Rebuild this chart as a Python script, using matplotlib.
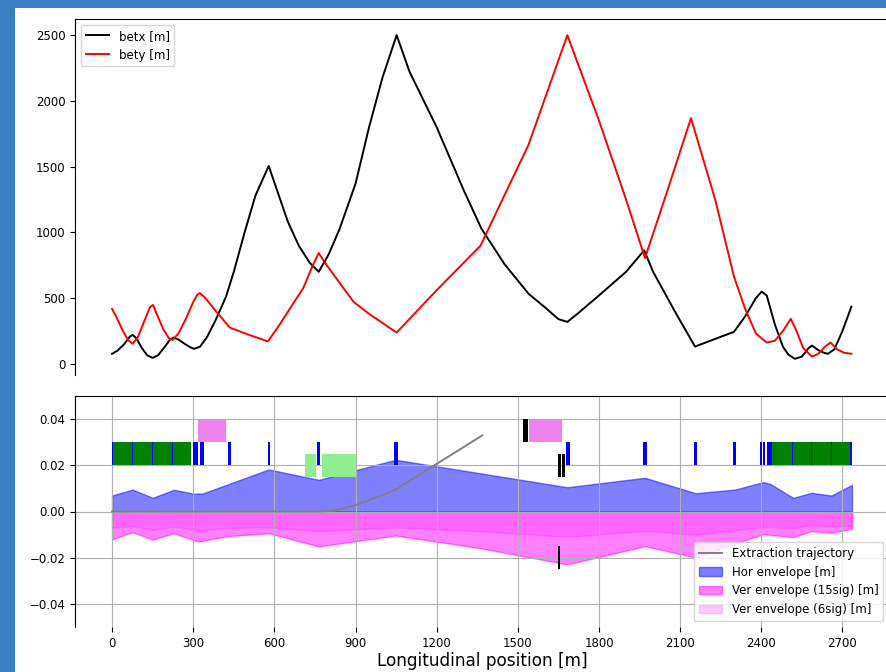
import matplotlib.pyplot as plt
from matplotlib.patches import Rectangle

# Optics functions
s_betx = [0, 20, 45, 65, 76, 90, 110, 130, 150, 170, 195, 215, 228, 245, 270, 290, 303,
          325, 350, 380, 421, 450, 490, 530, 579, 610, 650, 690, 730, 764, 800, 840, 900,
          950, 1000, 1052, 1100, 1200, 1300, 1365, 1450, 1540, 1600, 1650, 1683, 1720,
          1800, 1900, 1967, 2000, 2080, 2155, 2230, 2299, 2340, 2380, 2401, 2420, 2450,
          2480, 2500, 2524, 2550, 2575, 2587, 2610, 2630, 2646, 2670, 2700, 2733]
betx = [76, 100, 150, 205, 220, 195, 120, 65, 45, 65, 130, 185, 200, 185, 150, 125, 114,
        130, 200, 320, 509, 700, 1000, 1280, 1505, 1320, 1080, 900, 770, 700, 830, 1020, 1370,
        1800, 2180, 2500, 2220, 1800, 1320, 1030, 760, 532, 430, 340, 319, 380,
        520, 700, 863, 700, 400, 131, 190, 243, 360, 500, 549, 520, 300,
        130, 70, 38, 55, 120, 139, 105, 85, 76, 110, 250, 435]

s_bety = [0, 15, 40, 60, 76, 95, 120, 140, 151, 165, 190, 210, 224, 245, 270, 300, 315,
          325, 345, 380, 435, 500, 576, 620, 670, 707, 740, 764, 790, 838, 893, 950, 1000,
          1052, 1200, 1362, 1450, 1539, 1683, 1800, 1900, 1970, 2050, 2140, 2230, 2299,
          2340, 2380, 2420, 2450, 2480, 2509, 2530, 2555, 2587, 2610, 2635, 2656, 2680,
          2705, 2733]
bety = [418, 360, 250, 180, 152, 200, 330, 430, 448, 380, 260, 195, 182, 230, 330, 470, 525,
        538, 500, 410, 276, 225, 170, 300, 460, 577, 740, 843, 760, 625, 471, 380, 310,
        238, 560, 899, 1280, 1664, 2500, 1850, 1250, 805, 1300, 1869, 1246, 663,
        420, 230, 162, 175, 250, 342, 250, 120, 55, 75, 130, 162, 110,
        85, 76]

# Beam envelopes
s_hor = [0, 76, 150, 228, 303, 335, 579, 764, 1048, 1368, 1683, 1970, 2157, 2303, 2407,
         2432, 2518, 2585, 2659, 2735]
hor_env = [0.0069, 0.0095, 0.0059, 0.0094, 0.0077, 0.0078, 0.0182, 0.0137, 0.0224, 0.0164,
           0.0105, 0.0146, 0.0079, 0.0095, 0.0127, 0.0120, 0.0059, 0.0081, 0.0069, 0.0115]

s_ver = [0, 76, 150, 228, 318, 427, 579, 764, 1048, 1368, 1683, 1970, 2157, 2303, 2407,
         2518, 2585, 2659, 2735]
ver_env_15 = [-0.0121, -0.0089, -0.0122, -0.0094, -0.0130, -0.0107, -0.0094, -0.0151, -0.0104,
              -0.0160, -0.0229, -0.0150, -0.0199, -0.0139, -0.0098, -0.0111, -0.0085,
              -0.0092, -0.0075]
ver_env_6 = [-0.0070, -0.0064, -0.0078, -0.0065, -0.0082, -0.0071, -0.0068, -0.0085, -0.0068,
             -0.0086, -0.0110, -0.0084, -0.0100, -0.0080, -0.0067, -0.0071, -0.0060,
             -0.0066, -0.0061]

# Extraction trajectory
s_traj = [0, 760, 790, 826, 900, 970, 1048, 1368]
x_traj = [0, 0, 0.0001, 0.0004, 0.0027, 0.0058, 0.0095, 0.0329]

# Lattice elements: (start, length)
dipoles = [(3, 71), (74, 75), (149, 75), (224, 67), (2440, 74), (2514, 71), (2585, 74), (2659, 70)]
quads = [(0, 4), (72, 4), (147, 4), (222, 4), (300, 6), (308, 8), (326, 14), (427, 12),
         (575, 9), (759, 11), (1044, 12), (1679, 13), (1964, 12), (2152, 12), (2296, 12),
         (2395, 7), (2408, 7), (2420, 18), (2512, 4), (2583, 4), (2657, 4), (2727, 8)]
kickers = [(318, 105), (1540, 123)]
septa_high = [(1519, 17)]
septa_mid = [(1647, 13), (1662, 13)]
septa_low = [(1650, 7)]
sextupoles = [(712, 41), (777, 123)]
wire = [(1366, 3)]

fig = plt.figure(figsize=(8.87, 6.72), dpi=100, facecolor='#3b7fc2')
fig.add_artist(Rectangle((15 / 887, 0), 1, 1 - 8 / 672, transform=fig.transFigure,
                         facecolor='white', edgecolor='none', zorder=-1))

ax1 = fig.add_axes([75 / 887, 1 - 375 / 672, (889 - 75) / 887, (375 - 19) / 672])
ax2 = fig.add_axes([75 / 887, 1 - 627 / 672, (889 - 75) / 887, (627 - 396) / 672], sharex=ax1)

ax1.plot(s_betx, betx, color='k', lw=1.4, label='betx [m]')
ax1.plot(s_bety, bety, color='r', lw=1.4, label='bety [m]')
ax1.legend(loc='upper left', fontsize=8.5)
ax1.set_yticks([0, 500, 1000, 1500, 2000, 2500])
ax1.tick_params(axis='x', bottom=False, labelbottom=False)
ax1.tick_params(axis='y', labelsize=8.5)
ax1.spines['bottom'].set_visible(False)

ax2.plot(s_traj, x_traj, color='gray', lw=1.4, label='Extraction trajectory')
ax2.fill_between(s_hor, 0, hor_env, color='b', alpha=0.5, label='Hor envelope [m]')
ax2.fill_between(s_ver, 0, ver_env_15, color='magenta', alpha=0.5, label='Ver envelope (15sig) [m]')
ax2.fill_between(s_ver, 0, ver_env_6, color='magenta', alpha=0.2, label='Ver envelope (6sig) [m]')

def draw(elements, bottom, height, color):
    for start, length in elements:
        ax2.bar(start, height, width=length, bottom=bottom, align='edge', color=color, zorder=3)

draw(dipoles, 0.02, 0.01, 'green')
draw(quads, 0.02, 0.01, 'blue')
draw(kickers, 0.03, 0.01, 'violet')
draw(septa_high, 0.03, 0.01, 'black')
draw(septa_mid, 0.015, 0.01, 'black')
draw(septa_low, -0.025, 0.01, 'black')
draw(sextupoles, 0.015, 0.01, 'lightgreen')
draw(wire, 0.02, 0.01, '#ff55ff')

ax2.set_ylim(-0.05, 0.05)
ax2.set_xlim(-137, 2872)
ax2.set_xticks(range(0, 2701, 300))
ax2.set_yticks([-0.04, -0.02, 0.0, 0.02, 0.04])
ax2.tick_params(labelsize=8.5)
ax2.grid(True)
ax2.spines['bottom'].set_visible(False)
ax2.set_xlabel('Longitudinal position [m]', fontsize=12.2, labelpad=2)
ax2.legend(loc='lower right', fontsize=8.5)

fig.savefig('out.png', dpi=100, facecolor=fig.get_facecolor())
